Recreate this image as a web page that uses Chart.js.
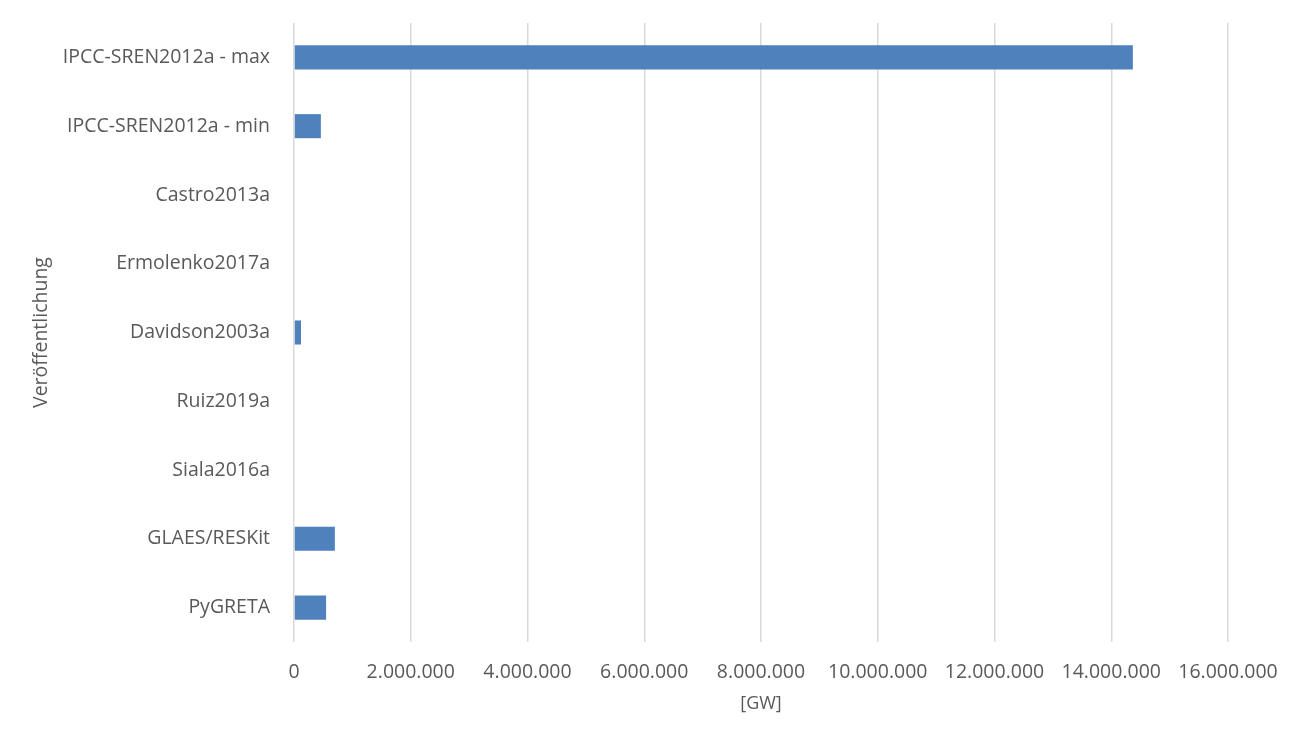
<!DOCTYPE html>
<html>
<head>
<meta charset="utf-8">
<title>Veröffentlichung</title>
<script src="https://cdn.jsdelivr.net/npm/chart.js@4/dist/chart.umd.min.js"></script>
<style>
    html, body { margin: 0; padding: 0; background: #fff; }
    #wrap { width: 1301px; height: 740px; }
</style>
</head>
<body>
<div id="wrap"><canvas id="bar-chart" width="1301" height="740"></canvas></div>
<script>
// Kategorien (von oben nach unten)
var categories = [
    "IPCC-SREN2012a - max",
    "IPCC-SREN2012a - min",
    "Castro2013a",
    "Ermolenko2017a",
    "Davidson2003a",
    "Ruiz2019a",
    "Siala2016a",
    "GLAES/RESKit",
    "PyGRETA"
];
// Werte in GW
var values = [14370000, 460000, 0, 0, 120000, 0, 0, 700000, 550000];
// Achse
var xMax = 16000000;
var xStep = 2000000;
var xTitle = "[GW]";
var yTitle = "Veröffentlichung";

var FONT = "'Open Sans', 'Noto Sans', sans-serif";
var TXT = "#595959";

// Zahl mit Punkt als Tausendertrenner
function fmt(v){
    return String(v).replace(/\B(?=(\d{3})+(?!\d))/g, ".");
}

showBarChart();

function showBarChart(){
    var ctx = document.getElementById("bar-chart");
    var chart = new Chart(ctx, {
        type: "bar",
        data: {
            labels: categories,
            datasets: [{
                data: values,
                backgroundColor: "#4f81bd",
                borderWidth: 0,
                categoryPercentage: 1,
                barPercentage: 0.35
            }]
        },
        options: {
            indexAxis: "y",
            responsive: false,
            animation: false,
            layout: { padding: { top: 23, right: 73, bottom: 0, left: 0 } },
            plugins: {
                legend: { display: false },
                tooltip: { enabled: false }
            },
            scales: {
                x: {
                    min: 0,
                    max: xMax,
                    afterFit: function(s){
                        s.height = 98;
                        s.paddingLeft = 0;
                        s.paddingRight = 0;
                    },
                    ticks: {
                        stepSize: xStep,
                        color: TXT,
                        font: { family: FONT, size: 19.5 },
                        padding: 19,
                        maxRotation: 0,
                        callback: function(v){ return fmt(v); }
                    },
                    grid: { color: "#d9d9d9", lineWidth: 1.5, drawTicks: false },
                    border: { display: false },
                    title: {
                        display: true,
                        text: xTitle,
                        color: TXT,
                        font: { family: FONT, size: 18 },
                        padding: { top: 0, bottom: 25 }
                    }
                },
                y: {
                    afterFit: function(s){
                        s.width = 294;
                        // keine Extra-Abstände oben/unten durch die Beschriftung
                        s.paddingTop = 0;
                        s.paddingBottom = 0;
                    },
                    ticks: {
                        color: TXT,
                        font: { family: FONT, size: 19.5 },
                        padding: 24
                    },
                    grid: { display: false, drawTicks: false },
                    border: { display: false },
                    title: {
                        display: true,
                        text: yTitle,
                        color: TXT,
                        font: { family: FONT, size: 19.5 },
                        padding: { top: 30, bottom: 0 }
                    }
                }
            }
        }
    });
}
</script>
</body>
</html>
